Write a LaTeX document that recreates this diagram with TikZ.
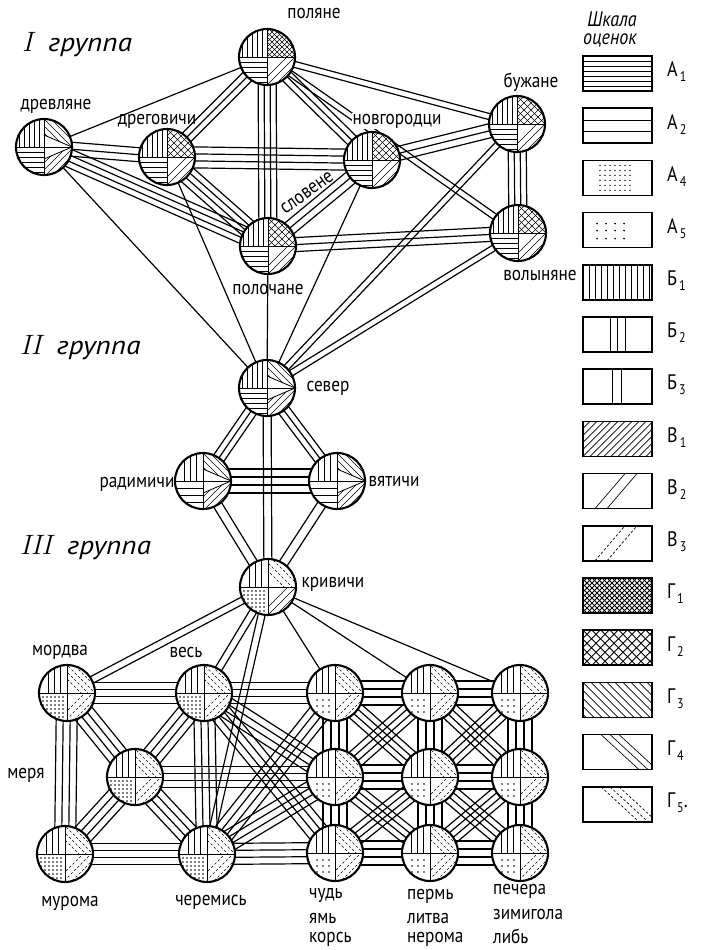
\documentclass[tikz,border=0pt]{standalone}
\usepackage{fontspec}
\newfontfamily\lab[FakeStretch=0.86]{PT Sans}
\newfontfamily\grpf[FakeStretch=1.12]{PT Sans}
\usetikzlibrary{calc}
\tikzset{
 conn/.style={line width=1.2pt},
 pat/.style={line width=0.65pt},
 patd/.style={line width=0.65pt,dash pattern=on 2.6pt off 2pt},
 outl/.style={line width=2.1pt},
 hole/.style={circle,minimum size=56pt,inner sep=0pt},
 lbl/.style={font=\lab\fontsize{20}{22}\selectfont,inner sep=1pt},
 grp/.style={font=\grpf\itshape\fontsize{26}{28}\selectfont,inner sep=0pt,anchor=west},
 leg/.style={font=\lab\fontsize{21}{22}\selectfont,inner sep=0pt,anchor=west},
 lcap/.style={font=\lab\itshape\fontsize{21}{21}\selectfont,inner sep=0pt},
 stk/.style={font=\lab\fontsize{20}{22}\selectfont,inner sep=0pt,anchor=west}
}
% connector band of #3 parallel lines, spacing #4
\newcommand\band[4]{%
 \pgfmathsetmacro\bstart{-(#3-1)*#4/2}%
 \foreach \k in {1,...,#3}{%
  \pgfmathsetmacro\off{\bstart+(\k-1)*#4}%
  \draw[conn] ($(#1.center)!\off pt!90:(#2.center)$) -- ($(#2.center)!\off pt!-90:(#1.center)$);
 }}
% regions
\def\RTL{\clip (0,0) rectangle (-30,-30);}
\def\RTR{\clip (0,0) rectangle (30,-30);}
\def\RBL{\clip (0,0) rectangle (-30,30);}
\def\RBR{\clip (0,0) rectangle (30,30);}
\def\RTU{\clip (0,-12) -- (28,0) -- (30,0) -- (30,-30) -- (0,-30) -- cycle;}
\def\RTD{\clip (0,12) -- (28,0) -- (30,0) -- (30,30) -- (0,30) -- cycle;}
\newcommand\qd[2]{\begin{scope}\clip (0,0) circle (27.5); #1 #2\end{scope}}
% patterns
\newcommand\Vd{\foreach \i in {-25,-20,...,25}{\draw[pat] (\i,-30)--(\i,30);}}
\newcommand\Vs{\foreach \i in {-19,-13,-7}{\draw[pat] (\i,-30)--(\i,30);}}
\newcommand\Hd{\foreach \i in {-25,-20,...,25}{\draw[pat] (-30,\i)--(30,\i);}}
\newcommand\Hs{\foreach \i in {7,14,21}{\draw[pat] (-30,\i)--(30,\i);}}
\newcommand\Xd{\foreach \i in {-60,-55,...,60}{\draw[pat] (\i-30,-30)--(\i+30,30); \draw[pat] (\i-30,30)--(\i+30,-30);}}
\newcommand\Xs{\foreach \i in {-63,-56,...,63}{\draw[pat] (\i-30,-30)--(\i+30,30); \draw[pat] (\i-30,30)--(\i+30,-30);}}
\newcommand\Bk[1]{\foreach \i in {#1}{\draw[pat] (\i-30,-30)--(\i+30,30);}}
\newcommand\Bkd[1]{\foreach \i in {#1}{\draw[patd] (\i-30,-30)--(\i+30,30);}}
\newcommand\Fw[1]{\foreach \i in {#1}{\draw[pat] (\i-30,30)--(\i+30,-30);}}
\newcommand\Fwd[1]{\foreach \i in {#1}{\draw[patd] (\i-30,30)--(\i+30,-30);}}
\newcommand\Dd{\foreach \p in {-24,-20,...,-4}{\foreach \q in {4,8,...,24}{\fill (\p,\q) circle (0.8);}}}
\newcommand\Ds{\foreach \p in {-18,-12,-6}{\foreach \q in {7,13,19}{\fill (\p,\q) circle (0.9);}}}
% node kinds
\newcommand\gP{\qd{\RTL}{\Vd}\qd{\RTR}{\Xd}\qd{\RBL}{\Hd}\qd{\RBR}{\Fw{20,28,36}}}
\newcommand\gA{\qd{\RTL}{\Vd}\qd{\RTR}{\Xs}\qd{\RBL}{\Hd}\qd{\RBR}{\Fw{20,28,36}}}
\newcommand\gT[2]{\qd{\RTL}{#1}\qd{\RBL}{#2}\qd{\RTU}{\Bk{14,21,28,35,42}}\qd{\RTD}{\Fw{16,23,30,37}}%
 \draw[pat,line width=0.8pt] (0,-12)--(28,0)--(0,12);}
\newcommand\gK{\qd{\RTL}{\Vs}\qd{\RTR}{\Bkd{16,24,32,40}}\qd{\RBL}{\Dd}\qd{\RBR}{\Fw{20,28,36}}}
\newcommand\gL{\qd{\RTL}{\Vs}\qd{\RTR}{\Bkd{14,21,28,35,42}}\qd{\RBL}{\Dd}\qd{\RBR}{\Fwd{18,26,34}}}
\newcommand\gR{\qd{\RTL}{\Vs}\qd{\RTR}{\Bkd{14,21,28,35,42}}\qd{\RBL}{\Ds}\qd{\RBR}{\Fwd{18,26,34}}}
\newcommand\glyph[2]{\begin{scope}[shift={(#1.center)}]
 \fill[white] (0,0) circle (28);
 #2
 \draw[pat,line width=0.8pt] (0,-28)--(0,28) (-28,0)--(28,0);
 \draw[outl] (0,0) circle (28);
\end{scope}}
% legend
\newcommand\sub[1]{\kern2pt\raisebox{-5pt}{\fontsize{14}{14}\selectfont #1}}
\newcommand\lbox[3]{%
 \begin{scope}[shift={(583,56+52.2*#1)}]
  \begin{scope}\clip (0,0) rectangle (69,35); #2 \end{scope}
  \draw[line width=1.6pt] (0,0) rectangle (69,35);
 \end{scope}
 \node[leg] (L#1) at (667,56+52.2*#1+16) {#3};}
\begin{document}
\begin{tikzpicture}[x=1pt,y=-1pt]
\useasboundingbox (0,0) rectangle (701,950);
\fill[white] (0,0) rectangle (701,950);
% nodes
\node[hole] (pol) at (267,57) {};
\node[hole] (drev) at (44,147) {};
\node[hole] (dreg) at (167,157) {};
\node[hole] (nov) at (372,160) {};
\node[hole] (buzh) at (517,124) {};
\node[hole] (vol) at (518,233) {};
\node[hole] (poloch) at (268,246) {};
\node[hole] (sev) at (267,388) {};
\node[hole] (rad) at (203,481) {};
\node[hole] (vyat) at (337,481) {};
\node[hole] (kriv) at (268,587) {};
\node[hole] (mord) at (67,693) {};
\node[hole] (ves) at (204,693) {};
\node[hole] (mer) at (135,777) {};
\node[hole] (mur) at (65,854) {};
\node[hole] (cher) at (207,854) {};
\node[hole] (g11) at (335,693) {};
\node[hole] (g12) at (335,777) {};
\node[hole] (g13) at (335,853) {};
\node[hole] (g21) at (430,693) {};
\node[hole] (g22) at (430,777) {};
\node[hole] (g23) at (430,853) {};
\node[hole] (g31) at (520,693) {};
\node[hole] (g32) at (520,777) {};
\node[hole] (g33) at (520,853) {};
% group I connectors
\band{drev}{pol}{1}{0}
\band{dreg}{pol}{3}{6}
\band{poloch}{pol}{4}{6}
\band{nov}{pol}{3}{6}
\band{pol}{buzh}{2}{6}
\band{pol}{vol}{2}{6}
\band{dreg}{nov}{4}{7}
\band{drev}{dreg}{3}{7}
\band{drev}{poloch}{4}{6}
\band{dreg}{poloch}{4}{6}
\band{drev}{sev}{1}{0}
\band{dreg}{sev}{1}{0}
\band{nov}{sev}{1}{0}
\band{poloch}{sev}{1}{0}
\band{buzh}{sev}{2}{6}
\band{vol}{sev}{2}{6}
\band{nov}{poloch}{3}{7}
\band{nov}{buzh}{3}{7}
\band{poloch}{vol}{3}{7}
\band{buzh}{vol}{4}{6}
% group II
\band{sev}{rad}{3}{6}
\band{sev}{vyat}{3}{6}
\band{rad}{vyat}{4}{8}
\band{sev}{kriv}{2}{8}
\band{rad}{kriv}{2}{9}
\band{vyat}{kriv}{2}{9}
% group III
\band{kriv}{mord}{2}{7}
\band{kriv}{ves}{2}{7}
\band{kriv}{cher}{2}{7}
\band{kriv}{g11}{1}{0}
\band{kriv}{g21}{1}{0}
\band{kriv}{g31}{1}{0}
\foreach \a/\b in {mord/ves,mord/mur,mord/mer,ves/mer,mer/mur,mer/cher,mur/cher,ves/cher,ves/g11,mer/g12,cher/g13,ves/g12,ves/g13,cher/g11,cher/g12}{\band{\a}{\b}{4}{7}}
\foreach \a/\b in {g11/g21,g21/g31,g12/g22,g22/g32,g13/g23,g23/g33,g11/g12,g12/g13,g21/g22,g22/g23,g31/g32,g32/g33}{\band{\a}{\b}{4}{8}}
\foreach \a/\b in {g11/g22,g21/g12,g12/g23,g22/g13,g21/g32,g31/g22,g22/g33,g32/g23}{\band{\a}{\b}{4}{6}}
% glyphs
\glyph{pol}{\gP}
\glyph{dreg}{\gA}
\glyph{nov}{\gA}
\glyph{buzh}{\gA}
\glyph{vol}{\gA}
\glyph{poloch}{\gA}
\glyph{drev}{\gT{\Vd}{\Hd}}
\glyph{sev}{\gT{\Vd}{\Hd}}
\glyph{rad}{\gT{\Vs}{\Hs}}
\glyph{vyat}{\gT{\Vs}{\Hs}}
\glyph{kriv}{\gK}
\foreach \n in {mord,ves,mer,mur,cher}{\glyph{\n}{\gL}}
\foreach \n in {g11,g12,g13,g21,g22,g23,g31,g32,g33}{\glyph{\n}{\gR}}
% labels
\node[lbl] (tpol) at (314,14) {поляне};
\node[lbl] (tdrev) at (56,106) {древляне};
\node[lbl] (tdreg) at (157,121) {дреговичи};
\node[lbl,fill=white] (tnov) at (397,121) {новгородци};
\node[lbl] (tbuzh) at (531,82) {бужане};
\node[lbl] (tvol) at (540,275) {волыняне};
\node[lbl] (tpoloch) at (268,289) {полочане};
\node[lbl,rotate=36,inner sep=0pt] (tslov) at (307,193) {словене};
\node[lbl] (tsev) at (328,388) {север};
\node[lbl] (trad) at (137,484) {радимичи};
\node[lbl] (tvyat) at (394,481) {вятичи};
\node[lbl] (tkriv) at (333,584) {кривичи};
\node[lbl] (tmord) at (60,652) {мордва};
\node[lbl] (tves) at (186,652) {весь};
\node[lbl] (tmer) at (26,775) {меря};
\node[lbl] (tmur) at (70,903) {мурома};
\node[lbl] (tcher) at (211,902) {черемись};
\node[stk] (s1a) at (309,896) {чудь};
\node[stk] (s1b) at (309,918) {ямь};
\node[stk] (s1c) at (309,939) {корсь};
\node[stk] (s2a) at (407,896) {пермь};
\node[stk] (s2b) at (407,918) {литва};
\node[stk] (s2c) at (407,939) {нерома};
\node[stk] (s3a) at (493,891) {печера};
\node[stk] (s3b) at (493,914) {зимигола};
\node[stk] (s3c) at (493,936) {либь};
\node[grp] (grI) at (22,45) {\textit{\fontsize{28}{28}\selectfont\rmfamily I}\ \ группа};
\node[grp] (grII) at (20,348) {\textit{\fontsize{28}{28}\selectfont\rmfamily II}\ \ группа};
\node[grp] (grIII) at (20,548) {\textit{\fontsize{28}{28}\selectfont\rmfamily III}\ \ группа};
\node[lcap] (cap1) at (612,19) {Шкала};
\node[lcap] (cap2) at (610,40) {оценок};
% legend
\lbox{0}{\foreach \q in {5,10,...,30}{\draw[pat] (0,\q)--(69,\q);}}{А\sub{1}}
\lbox{1}{\draw[pat] (0,12)--(69,12) (0,23)--(69,23);}{А\sub{2}}
\lbox{2}{\foreach \p in {17,22,...,47}{\foreach \q in {5,10,...,30}{\fill (\p,\q) circle (0.8);}}}{А\sub{4}}
\lbox{3}{\foreach \p in {14,23,32,41}{\foreach \q in {11,18,26}{\fill (\p,\q) circle (0.9);}}}{А\sub{5}}
\lbox{4}{\foreach \p in {6,12,...,66}{\draw[pat] (\p,0)--(\p,35);}}{Б\sub{1}}
\lbox{5}{\foreach \p in {27,34,42}{\draw[pat] (\p,0)--(\p,35);}}{Б\sub{2}}
\lbox{6}{\foreach \p in {29,38}{\draw[pat] (\p,0)--(\p,35);}}{Б\sub{3}}
\lbox{7}{\foreach \p in {-35,-28,...,70}{\draw[pat] (\p,35)--(\p+35,0);}}{В\sub{1}}
\lbox{8}{\draw[pat] (12,35)--(42,0) (24,35)--(54,0);}{В\sub{2}}
\lbox{9}{\draw[patd] (12,35)--(42,0) (24,35)--(54,0);}{В\sub{3}}
\lbox{10}{\foreach \p in {-36,-31,...,72}{\draw[line width=0.75pt] (\p,0)--(\p+35,35) (\p,35)--(\p+35,0);}}{Г\sub{1}}
\lbox{11}{\foreach \p in {-36,-27,...,72}{\draw[line width=0.8pt] (\p,0)--(\p+35,35) (\p,35)--(\p+35,0);}}{Г\sub{2}}
\lbox{12}{\foreach \p in {-32,-24,...,64}{\draw[pat] (\p,0)--(\p+35,35);}}{Г\sub{3}}
\lbox{13}{\foreach \p in {18,27,36}{\draw[pat] (\p,0)--(\p+38,35);}}{Г\sub{4}}
\lbox{14}{\foreach \p in {18,27,36}{\draw[patd] (\p,0)--(\p+38,35);}}{Г\sub{5}.}
\end{tikzpicture}
\end{document}
